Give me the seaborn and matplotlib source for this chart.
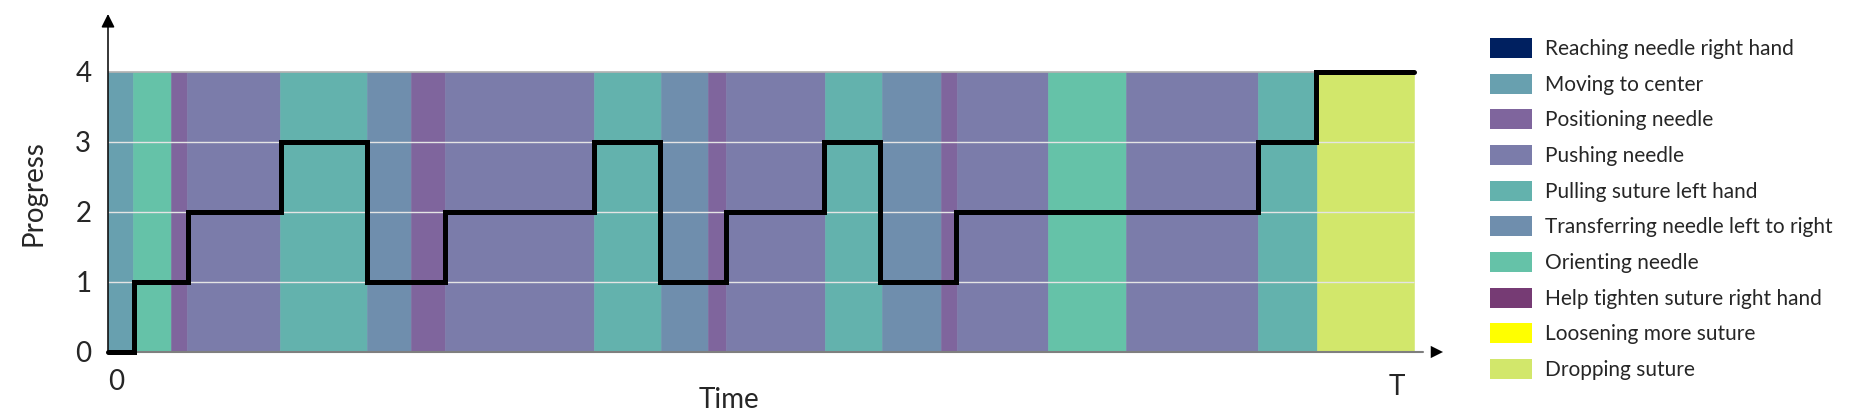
import matplotlib
matplotlib.use("Agg")
import matplotlib.pyplot as plt
import seaborn as sns
import pandas as pd
from matplotlib.patches import Patch

# ---- data ----
categories = [
    "Reaching needle right hand",
    "Moving to center",
    "Positioning needle",
    "Pushing needle",
    "Pulling suture left hand",
    "Transferring needle left to right",
    "Orienting needle",
    "Help tighten suture right hand",
    "Loosening more suture",
    "Dropping suture",
]
category_colors = [
    "#002060", "#68a0af", "#7f659d", "#7b7caa", "#63b2ad",
    "#6f8ead", "#65c2a8", "#763b74", "#ffff00", "#d2e76b",
]

T_END = 1306
band_start = [0, 25, 63, 79, 172, 259, 303, 337, 486, 553, 600, 618, 717, 774,
              833, 849, 940, 1018, 1150, 1209]
band_label = [
    "Moving to center", "Orienting needle", "Positioning needle", "Pushing needle",
    "Pulling suture left hand", "Transferring needle left to right",
    "Positioning needle", "Pushing needle", "Pulling suture left hand",
    "Transferring needle left to right", "Positioning needle", "Pushing needle",
    "Pulling suture left hand", "Transferring needle left to right",
    "Positioning needle", "Pushing needle", "Orienting needle", "Pushing needle",
    "Pulling suture left hand", "Dropping suture",
]

step_time = [0, 26, 80, 173, 259, 337, 486, 552, 618, 716, 772, 848, 1150, 1208, 1306]
step_progress = [0, 1, 2, 3, 1, 2, 3, 1, 2, 3, 1, 2, 3, 4, 4]

y_ticks = [0, 1, 2, 3, 4]

# ---- figure ----
sns.set_style("white")
plt.rcParams["font.family"] = ["Lato", "DejaVu Sans"]

W, H = 1872, 411
fig = plt.figure(figsize=(W / 100, H / 100), dpi=100)
ax = fig.add_axes([108 / W, 1 - 352 / H, 1335 / W, 338 / H])

color_map = dict(zip(categories, category_colors))
band_end = band_start[1:] + [T_END]
bands = pd.DataFrame({"start": band_start, "end": band_end, "label": band_label})
bands["width"] = bands["end"] - bands["start"]
for _, r in bands.iterrows():
    c = color_map[r["label"]]
    ax.bar(r["start"], 4, width=r["width"], align="edge", color=c,
           edgecolor=c, linewidth=0.4, zorder=1)

ax.hlines([1, 2, 3], 0, T_END, colors="#e4e4e4", lw=1, zorder=2)
ax.hlines(4, 0, T_END, colors="#b0b0b0", lw=1.2, zorder=2)

sns.lineplot(x=step_time, y=step_progress, drawstyle="steps-post", color="black",
             lw=3.6, estimator=None, ax=ax, zorder=4, clip_on=False,
             solid_joinstyle="miter")

ax.set_xlim(0, 1335)
ax.set_ylim(0, 4.82)
ax.set_yticks(y_ticks)
ax.set_yticklabels([str(v) for v in y_ticks])
ax.tick_params(axis="y", length=0, pad=12, labelsize=20)
ax.set_xticks([])
for sp in ax.spines.values():
    sp.set_visible(False)

# axes with arrows
ax.plot([0, 0.985], [0, 0], transform=ax.transAxes, color="#7f7f7f", lw=1.5,
        clip_on=False, zorder=3)
ax.annotate("", xy=(1, 0), xytext=(0.97, 0), xycoords="axes fraction",
            arrowprops=dict(arrowstyle="-|>", color="black", lw=0.01,
                            shrinkA=0, shrinkB=0, mutation_scale=22))
ax.annotate("", xy=(0, 1), xytext=(0, 0), xycoords="axes fraction",
            arrowprops=dict(arrowstyle="-|>", color="black", lw=1.1,
                            shrinkA=0, shrinkB=0, mutation_scale=20),
            zorder=5)

ax.annotate("0", xy=(0, 0), xytext=(8, -30), textcoords="offset pixels",
            ha="center", va="center", fontsize=20, annotation_clip=False)
ax.annotate("T", xy=(T_END, 0), xytext=(-17, -35), textcoords="offset pixels",
            ha="center", va="center", fontsize=20, annotation_clip=False)

ax.set_ylabel("Progress", fontsize=20)
ax.yaxis.set_label_coords(-0.046, 0.47)
ax.set_xlabel("Time", fontsize=20)
ax.xaxis.set_label_coords(0.4652, -0.105)

handles = [Patch(facecolor=c, edgecolor="none") for c in category_colors]
fig.legend(handles, categories, loc="upper left",
           bbox_to_anchor=(1490 / W, 1 - 38 / H), frameon=False, fontsize=15,
           handlelength=2.02, handleheight=1.1, handletextpad=0.62,
           labelspacing=0.70, borderpad=0, borderaxespad=0)

fig.savefig("out.png", dpi=100)
